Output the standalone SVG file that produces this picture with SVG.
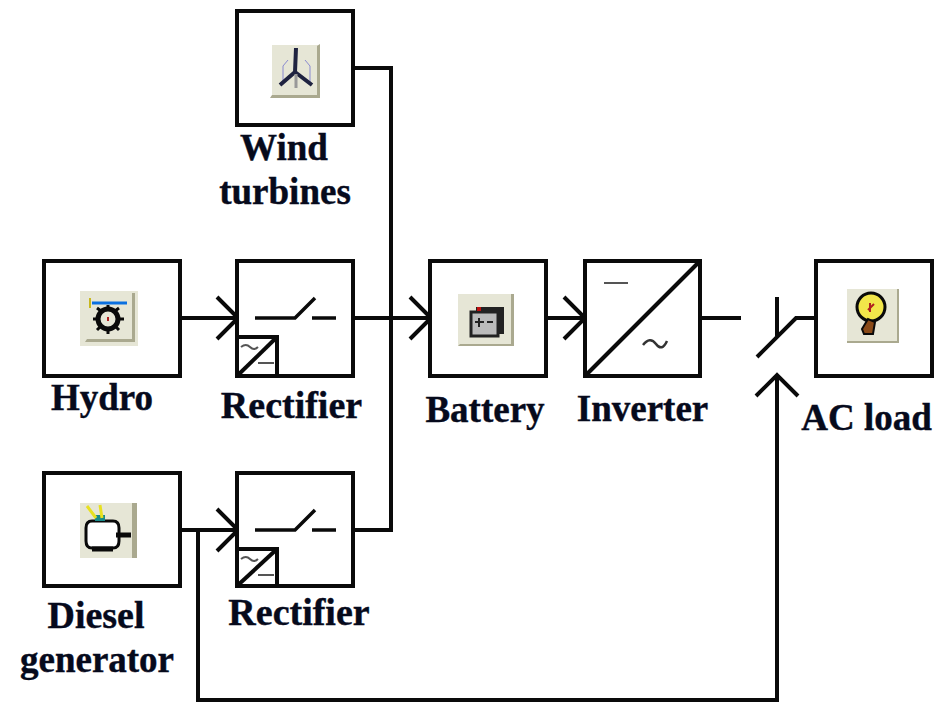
<svg xmlns="http://www.w3.org/2000/svg" width="946" height="703" viewBox="0 0 946 703">
<style>
.box{fill:#fff;stroke:#0a0a0a;stroke-width:4}
.w{fill:none;stroke:#0a0a0a;stroke-width:4}
.t{fill:none;stroke:#0a0a0a;stroke-width:3.5}
.thin{fill:none;stroke:#555;stroke-width:2}
.lbl{font-family:"Liberation Serif",serif;font-weight:bold;font-size:37px;fill:#060a1c;stroke:#060a1c;stroke-width:.4}
.btn{fill:#e6e6d6}
.shade{fill:#aaa98f}
</style>
<rect width="946" height="703" fill="#fff"/>
<g id="connectors">
<path class="w" d="M353 68H391V530H353"/>
<path class="w" d="M180 318H236M217 297L238 318L217 339"/>
<path class="w" d="M353 318H429M410 297L431 318L410 339"/>
<path class="w" d="M546 318H584M564 297L585 318L564 339"/>
<path class="w" d="M700 318H741"/>
<path class="w" d="M180 530H236M217 509L238 530L217 551"/>
<path class="w" d="M198 530V700H777V377M756 396L777 375L798 396"/>
<path class="w" d="M777 297V336M757 357L796 318H816"/>
</g>
<g id="wind">
<rect class="box" x="237" y="11" width="116" height="114"/>
<rect class="btn" x="272" y="45" width="48" height="52"/>
<path class="shade" d="M320 44V98H270L272 95H317V46Z"/>
<path fill="none" stroke="#8a8ad0" stroke-width="1" d="M283 82V66L288 60M310 82V66L305 60"/>
<path fill="none" stroke="#1f2340" stroke-width="4" d="M296 48L295 72M295 72L280 85M295 72L312 85"/>
<path fill="none" stroke="#999" stroke-width="3" d="M296 74V88"/>
<text class="lbl" x="284" y="160" text-anchor="middle">Wind</text>
<text class="lbl" x="285" y="204" text-anchor="middle">turbines</text>
</g>
<g id="hydro">
<rect class="box" x="44" y="261" width="136" height="115"/>
<rect class="btn" x="80" y="291" width="58" height="55"/>
<path class="shade" d="M135 293V342H85L87 339H132V293Z"/>
<path fill="none" stroke="#0a70e0" stroke-width="3" d="M92 303H127"/>
<path fill="#c8b820" d="M89 298h2v10h-2z"/>
<circle cx="108" cy="319" r="10" fill="none" stroke="#0a0a0a" stroke-width="5"/>
<path stroke="#0a0a0a" stroke-width="3" d="M108 305V309M108 329V334M93 319H98M118 319H124M97 308L101 311M119 308L115 311M97 330L101 326M119 330L115 326"/>
<rect x="107" y="317" width="2" height="4" fill="#b02020"/>
<text class="lbl" x="102" y="410" text-anchor="middle">Hydro</text>
</g>
<g id="rectifier1">
<rect class="box" x="237" y="261" width="116" height="115"/>
<path class="t" d="M255 318H295L315 298M312 318H336"/>
<rect class="w" x="237" y="337" width="40" height="39"/>
<path class="w" d="M237 376L277 337"/>
<path class="thin" d="M241 347Q246 343 250 347T258 347M258 363H274"/>
<text class="lbl" x="291.500" y="418" text-anchor="middle" style="font-size:38px">Rectifier</text>
</g>
<g id="battery">
<rect class="box" x="430" y="261" width="116" height="115"/>
<rect class="btn" x="458" y="294" width="56" height="52"/>
<path class="shade" d="M514 294V346H458L460 344H511V294Z"/>
<rect x="476" y="307" width="28" height="27" fill="#222"/>
<rect x="471" y="312" width="27" height="24" fill="#bbb" stroke="#222" stroke-width="3"/>
<rect x="477" y="307" width="4" height="4" fill="#c01010"/>
<path stroke="#222" stroke-width="2" d="M475 322H484M479 318V327M487 322H493"/>
<text class="lbl" x="485" y="422" text-anchor="middle">Battery</text>
</g>
<g id="inverter">
<rect class="box" x="585" y="261" width="115" height="115"/>
<path class="w" d="M585 376L700 261"/>
<path class="thin" d="M604 283H628"/>
<path fill="none" stroke="#333" stroke-width="2.500" d="M643 345Q650 336 656 344T667 341"/>
<text class="lbl" x="642.500" y="421" text-anchor="middle">Inverter</text>
</g>
<g id="acload">
<rect class="box" x="816" y="261" width="116" height="115"/>
<rect class="btn" x="847" y="289" width="52" height="54"/>
<path class="shade" d="M899 289V343H847V341H897V289Z"/>
<circle cx="871" cy="307" r="14" fill="#f2e64a" stroke="#0a0a0a" stroke-width="3"/>
<path stroke="#b02020" stroke-width="2" d="M868 310L874 304M870 303V312"/>
<path fill="#8a4a18" stroke="#0a0a0a" stroke-width="2" d="M862 329L868 319L875 322L873 334H864Z"/>
<text class="lbl" x="866.500" y="430" text-anchor="middle" style="font-size:37px">AC load</text>
</g>
<g id="diesel">
<rect class="box" x="44" y="473" width="136" height="113"/>
<rect class="btn" x="80" y="503" width="55" height="55"/>
<rect class="shade" x="132" y="503" width="5" height="55"/>
<path fill="#fff" stroke="#0a0a0a" stroke-width="3" d="M92 521H113Q119 521 119 528V541Q119 548 113 548H92Q86 548 86 541V528Q86 521 92 521Z"/>
<path stroke="#0a0a0a" stroke-width="5" d="M116 535H131M92 549H113"/>
<rect x="95" y="515" width="10" height="6" fill="#178a8a"/>
<path stroke="#e8e020" stroke-width="3" d="M87 506L96 518M100 505L102 518"/>
<text class="lbl" x="96" y="628" text-anchor="middle" style="font-size:38px">Diesel</text>
<text class="lbl" x="97" y="672" text-anchor="middle">generator</text>
</g>
<g id="rectifier2">
<rect class="box" x="237" y="473" width="116" height="113"/>
<path class="t" d="M255 530H295L315 510M312 530H336"/>
<rect class="w" x="237" y="549" width="40" height="37"/>
<path class="w" d="M237 586L277 549"/>
<path class="thin" d="M241 559Q246 555 250 559T258 559M258 575H274"/>
<text class="lbl" x="299" y="625" text-anchor="middle" style="font-size:38px">Rectifier</text>
</g>
</svg>
